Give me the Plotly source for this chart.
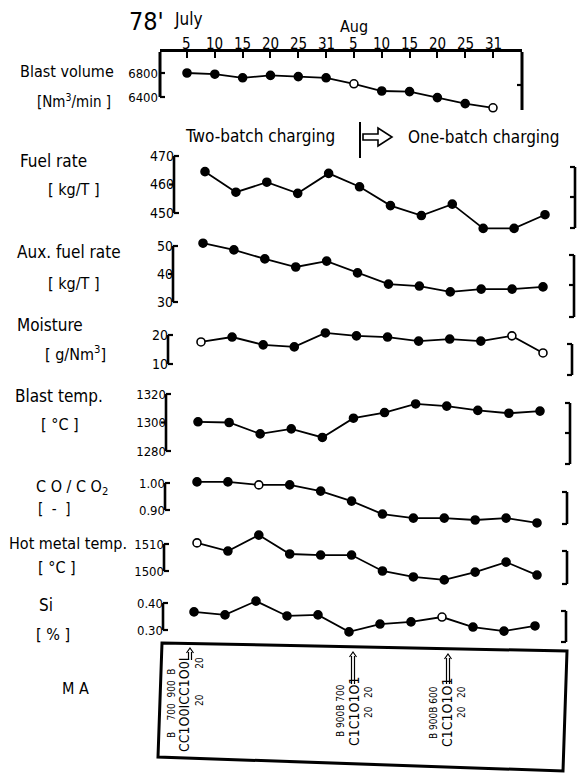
import plotly.graph_objects as go

W, H = 581, 774
FONT = "DejaVu Sans Condensed, Liberation Sans Narrow, DejaVu Sans, sans-serif"


def px(x):
    return x / W


def py(y):
    return 1 - y / H


# ---------------- data ----------------
day_labels = ["5", "10", "15", "20", "25", "31", "5", "10", "15", "20", "25", "31"]
blast_volume = [6800, 6780, 6720, 6760, 6740, 6720, 6620, 6500, 6490, 6390, 6290, 6220]
fuel_rate = [464.5, 457.3, 460.8, 456.9, 463.9, 459.2, 452.6, 449.1, 453.1, 444.6, 444.6, 449.4]
aux_fuel_rate = [51.0, 48.6, 45.4, 42.5, 44.6, 40.4, 36.4, 35.7, 33.6, 34.6, 34.6, 35.4]
moisture = [17.6, 19.3, 16.6, 15.9, 20.7, 19.7, 19.3, 17.9, 18.6, 17.9, 19.7, 13.8]
blast_temp = [1300.5, 1300, 1292, 1295.5, 1289.5, 1303, 1307, 1313, 1311.5, 1308.5, 1306.5, 1308]
co_co2 = [1.004, 1.004, 0.993, 0.993, 0.970, 0.933, 0.885, 0.870, 0.870, 0.863, 0.870, 0.852]
hot_metal_temp = [1510.4, 1507.4, 1513.3, 1506.3, 1505.9, 1505.9, 1500.0, 1497.8, 1496.7, 1499.6, 1503.3, 1498.5]
si = [0.367, 0.356, 0.407, 0.352, 0.356, 0.293, 0.322, 0.330, 0.348, 0.311, 0.296, 0.315]

bv_ticks = [6400, 6800]
fuel_ticks = [450, 460, 470]
aux_ticks = [30, 40, 50]
moist_ticks = [10, 20]
bt_ticks = [1280, 1300, 1320]
co_ticks = [0.90, 1.00]
hm_ticks = [1500, 1510]
si_ticks = [0.30, 0.40]

# indices of points drawn as open circles
bv_open = [6, 11]
moist_open = [0, 10, 11]
co_open = [2]
hm_open = [0]
si_open = [8]

idx = list(range(len(day_labels)))

fig = go.Figure()
shapes = []
annotations = []
layout = dict(
    width=W, height=H, margin=dict(l=0, r=0, t=0, b=0),
    paper_bgcolor="white", plot_bgcolor="rgba(0,0,0,0)",
    showlegend=False, font=dict(family=FONT, color="black"),
)


def marker_colors(open_list):
    return ["white" if i in open_list else "black" for i in idx]


def yrange(v_lo, p_lo, v_hi, p_hi, top, bottom):
    upp = (v_hi - v_lo) / (p_lo - p_hi)
    return [v_lo - (bottom - p_lo) * upp, v_hi + (p_hi - top) * upp]


def hline(x0, x1, y, yref, w=2.2):
    shapes.append(dict(type="line", xref="paper", yref=yref, x0=px(x0), x1=px(x1),
                       y0=y, y1=y, line=dict(color="black", width=w)))


def vline(x, y0, y1, yref, w=2.6):
    shapes.append(dict(type="line", xref="paper", yref=yref, x0=px(x), x1=px(x),
                       y0=y0, y1=y1, line=dict(color="black", width=w)))


# ---------------- blast volume panel (top, with date axis) ----------------
bv_top, bv_bot = 52, 118
step_bv = (493 - 187) / 11
bv_yr = yrange(6400, 97, 6800, 73, bv_top, bv_bot)
layout["xaxis"] = dict(
    domain=[px(160), px(522)], range=[-(187 - 160) / step_bv, 11 + (522 - 493) / step_bv],
    anchor="y", side="top", showline=True, linewidth=3, linecolor="black",
    ticks="inside", ticklen=6, tickwidth=2, tickcolor="black",
    tickvals=idx, showticklabels=False, showgrid=False, zeroline=False,
)
layout["yaxis"] = dict(
    domain=[py(bv_bot), py(bv_top)], range=bv_yr, anchor="x",
    showline=False, ticks="", tickvals=bv_ticks, ticktext=[str(t) for t in bv_ticks],
    tickfont=dict(size=13, family=FONT), showgrid=False, zeroline=False, ticklabelstandoff=1,
)
fig.add_trace(go.Scatter(
    x=idx, y=blast_volume, xaxis="x", yaxis="y", mode="lines+markers",
    line=dict(color="black", width=1.8),
    marker=dict(size=8, color=marker_colors(bv_open), line=dict(color="black", width=1.6)),
    cliponaxis=False, hoverinfo="skip",
))
# date labels on the top axis, placed through the x scale
for i, lab in zip(idx, day_labels):
    annotations.append(dict(text=lab, x=i, y=py(44), xref="x", yref="paper", showarrow=False,
                            xanchor="center", yanchor="middle",
                            font=dict(size=15, family=FONT, color="black")))
vline(160, 6400, bv_yr[1], "y", 3)
hline(160, 165, 6800, "y")
hline(160, 165, 6400, "y")
shapes.append(dict(type="line", xref="paper", yref="paper", x0=px(522), x1=px(522),
                   y0=py(52), y1=py(110), line=dict(color="black", width=3)))
hline(522, 517, 6600, "y")

# ---------------- lower panels ----------------
panels = [
    # values, ticks, tick texts, open points, (v_lo,p_lo,v_hi,p_hi), axis_x, x0, x11, top, bottom, font size
    (fuel_rate, fuel_ticks, ["450", "460", "470"], [], (450, 213, 470, 156), 174, 205, 545, 145, 240, 14),
    (aux_fuel_rate, aux_ticks, ["30", "40", "50"], [], (30, 302, 50, 246), 173, 203, 543, 235, 310, 14),
    (moisture, moist_ticks, ["10", "20"], moist_open, (10, 364, 20, 335), 168, 201, 543, 325, 372, 14),
    (blast_temp, bt_ticks, ["1280", "1300", "1320"], [], (1280, 451, 1320, 394), 166, 198, 540, 385, 460, 13),
    (co_co2, co_ticks, ["0.90", "1.00"], co_open, (0.90, 510, 1.00, 483), 165, 197, 537, 475, 530, 13),
    (hot_metal_temp, hm_ticks, ["1500", "1510"], hm_open, (1500, 571, 1510, 544), 164, 197, 537, 530, 590, 13),
    (si, si_ticks, ["0.30", "0.40"], si_open, (0.30, 630, 0.40, 603), 163, 194, 535, 592, 642, 13),
]

for k, (vals, ticks, ttext, opn, cal, ax_x, x0, x11, top, bot, fs) in enumerate(panels, start=2):
    step = (x11 - x0) / 11
    yr = yrange(cal[0], cal[1], cal[2], cal[3], top, bot)
    layout[f"xaxis{k}"] = dict(domain=[px(x0 - 0.6 * step), px(x11 + 0.6 * step)],
                               range=[-0.6, 11.6], anchor=f"y{k}", visible=False)
    layout[f"yaxis{k}"] = dict(
        domain=[py(bot), py(top)], range=yr, anchor="free", position=px(ax_x),
        showline=False, ticks="", tickvals=ticks, ticktext=ttext,
        tickfont=dict(size=fs, family=FONT), showgrid=False, zeroline=False,
        ticklabelstandoff=0,
    )
    fig.add_trace(go.Scatter(
        x=idx, y=vals, xaxis=f"x{k}", yaxis=f"y{k}", mode="lines+markers",
        line=dict(color="black", width=1.8),
        marker=dict(size=8, color=marker_colors(opn), line=dict(color="black", width=1.6)),
        cliponaxis=False, hoverinfo="skip",
    ))
    # left bracket axis
    vline(ax_x, ticks[0], ticks[-1], f"y{k}")
    for t in ticks:
        d = 5 if t in (ticks[0], ticks[-1]) else -5
        hline(ax_x, ax_x + d, t, f"y{k}")

# right-hand brackets (x, top, bottom, middle ticks) in pixels
right_brackets = [
    (575, 167, 228, [197]),
    (574, 255, 317, [285]),
    (572, 344, 375, []),
    (570, 403, 464, [433]),
    (567, 492, 524, []),
    (567, 551, 584, []),
    (566, 611, 642, []),
]
for x, t, b, mids in right_brackets:
    shapes.append(dict(type="line", xref="paper", yref="paper", x0=px(x), x1=px(x),
                       y0=py(t), y1=py(b), line=dict(color="black", width=2.6)))
    for yy in [t, b] + mids:
        shapes.append(dict(type="line", xref="paper", yref="paper", x0=px(x), x1=px(x - 5),
                           y0=py(yy), y1=py(yy), line=dict(color="black", width=2.2)))


# ---------------- text ----------------
def ann(text, x, y, size=15, xanchor="center", angle=0):
    annotations.append(dict(text=text, x=px(x), y=py(y), xref="paper", yref="paper",
                            showarrow=False, xanchor=xanchor, yanchor="middle",
                            textangle=angle, font=dict(size=size, family=FONT, color="black")))


ann("78'", 146, 22, 25)
ann("July", 188, 19, 17)
ann("Aug", 354, 26, 16)
ann("Blast volume", 18, 72, 16, "left")
ann("[Nm<sup>3</sup>/min ]", 35, 101, 15, "left")
ann("Two-batch charging", 260, 136, 17)
ann("One-batch charging", 484, 137, 17)
ann("Fuel rate", 18, 161, 17, "left")
ann("[ kg/T ]", 46, 189, 16, "left")
ann("Aux. fuel rate", 15, 252, 17, "left")
ann("[ kg/T ]", 46, 283, 16, "left")
ann("Moisture", 15, 325, 17, "left")
ann("[ g/Nm<sup>3</sup>]", 43, 353, 16, "left")
ann("Blast temp.", 13, 396, 17, "left")
ann("[ °C ]", 39, 424, 16, "left")
ann("C O / C O<sub>2</sub>", 34, 487, 16, "left")
ann("[  -  ]", 36, 509, 15, "left")
ann("Hot metal temp.", 7, 543, 16, "left")
ann("[ °C ]", 36, 567, 16, "left")
ann("Si", 37, 605, 17, "left")
ann("[ % ]", 34, 634, 16, "left")
ann("M A", 75, 688, 16)

# batch-change marker: bar + hollow arrow
shapes.append(dict(type="line", xref="paper", yref="paper", x0=px(360), x1=px(360),
                   y0=py(122), y1=py(158), line=dict(color="black", width=2)))
arrow_pts = [(363, 134), (378, 134), (378, 128), (392, 137), (378, 146), (378, 140), (363, 140)]
path = "M " + " L ".join(f"{px(a):.5f},{py(b):.5f}" for a, b in arrow_pts) + " Z"
shapes.append(dict(type="path", xref="paper", yref="paper", path=path,
                   line=dict(color="black", width=1.6), fillcolor="white"))

# MA box
box_pts = [(162, 643), (567, 651), (563, 771), (158, 757)]
path = "M " + " L ".join(f"{px(a):.5f},{py(b):.5f}" for a, b in box_pts) + " Z"
shapes.append(dict(type="path", xref="paper", yref="paper", path=path,
                   line=dict(color="black", width=3), fillcolor="rgba(0,0,0,0)"))

# MA charging notation (rotated)
ann("B&nbsp;&nbsp;&nbsp;&nbsp;700&nbsp;&nbsp;900&nbsp;&nbsp;B", 171, 703, 10, angle=-90)
ann("CC1O0ICC1O0I", 184, 705, 14, angle=-90)
ann("20&nbsp;&nbsp;&nbsp;&nbsp;&nbsp;&nbsp;&nbsp;&nbsp;&nbsp;20", 199, 682, 10, angle=-90)

ann("B&nbsp;900B&nbsp;700", 340, 711, 10, angle=-90)
ann("C1C1O1O1", 354, 711, 14, angle=-90)
ann("20&nbsp;&nbsp;&nbsp;20", 368, 702, 10, angle=-90)

ann("B&nbsp;900B&nbsp;600", 433, 713, 10, angle=-90)
ann("C1C1O1O1", 447, 713, 14, angle=-90)
ann("20&nbsp;&nbsp;&nbsp;20", 461, 702, 10, angle=-90)

# small up-arrows into the MA box top edge
for ax_, y_top, y_bot in [(190, 648, 660), (353, 652, 684), (448, 654, 684)]:
    shapes.append(dict(type="line", xref="paper", yref="paper", x0=px(ax_ - 1.5), x1=px(ax_ - 1.5),
                       y0=py(y_top + 4), y1=py(y_bot), line=dict(color="black", width=1.2)))
    shapes.append(dict(type="line", xref="paper", yref="paper", x0=px(ax_ + 1.5), x1=px(ax_ + 1.5),
                       y0=py(y_top + 4), y1=py(y_bot), line=dict(color="black", width=1.2)))
    p = f"M {px(ax_ - 3.5):.5f},{py(y_top + 5):.5f} L {px(ax_):.5f},{py(y_top):.5f} L {px(ax_ + 3.5):.5f},{py(y_top + 5):.5f}"
    shapes.append(dict(type="path", xref="paper", yref="paper", path=p,
                       line=dict(color="black", width=1.2)))

layout["shapes"] = shapes
layout["annotations"] = annotations
fig.update_layout(**layout)
fig.write_html("out.html")
